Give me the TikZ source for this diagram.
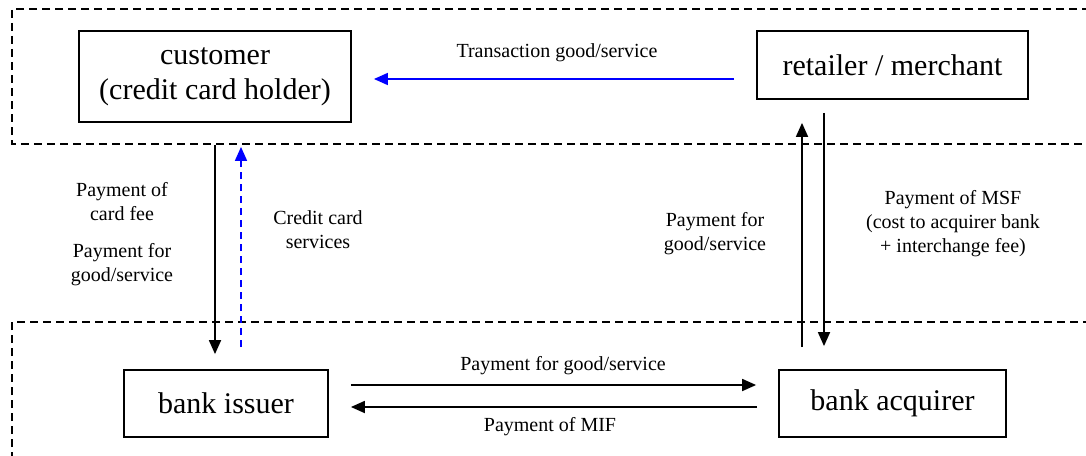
\documentclass[tikz,border=0pt]{standalone}
\usepackage{fontspec}
\setmainfont{Liberation Serif}
\newfontfamily\timesfont{Liberation Serif}
\usetikzlibrary{arrows.meta,calc}

\tikzset{
  party/.style={draw, line width=1.8pt, inner sep=0pt, align=center,
    font=\timesfont\fontsize{30}{35}\selectfont},
  lbl/.style={align=center, font=\timesfont\fontsize{20}{24}\selectfont},
  zone/.style={line width=1.6pt, dash pattern=on 8pt off 5pt},
  flow/.style={line width=1.8pt, -{Triangle[length=14pt,width=12pt]}},
  service/.style={flow, blue, line width=1.6pt},
}

\begin{document}
\begin{tikzpicture}[x=1pt, y=-1pt]
\useasboundingbox (0,0) rectangle (1086,455);

% the two dashed zones
\draw[zone] (1090,9) -- (12,9) -- (12,144) -- (1090,144);
\draw[zone] (12,460) -- (12,322) -- (1090,322);

% parties
\node[party, minimum width=272pt, minimum height=91pt] (cust) at (215,76.5)
  {customer\\(credit card holder)};
\node[party, minimum width=271pt, minimum height=68pt] (shop) at (892.5,65)
  {retailer / merchant};
\node[party, minimum width=204pt, minimum height=67pt] (issuer) at (226,403.5)
  {bank issuer};
\node[party, minimum width=227pt, minimum height=67pt] (acq) at (892.5,403.5)
  {bank acquirer};

% customer <-> issuer
\coordinate (c1) at ($(cust.south)+(26,0)$);
\draw[flow, shorten <=22pt, shorten >=15pt] (cust.south) -- (cust.south |- issuer.north);
\draw[service, dash pattern=on 7pt off 5pt, shorten <=22pt, shorten >=24pt]
  (c1 |- issuer.north) -- (c1);

% retailer <-> acquirer
\coordinate (s1) at (802,0);
\coordinate (s2) at (824,0);
\draw[flow, shorten <=22pt, shorten >=23pt] (s1 |- acq.north) -- (s1 |- shop.south);
\draw[flow, shorten <=13pt, shorten >=23pt] (s2 |- shop.south) -- (s2 |- acq.north);

% issuer <-> acquirer
\coordinate (h1) at (0,385);
\coordinate (h2) at (0,407);
\draw[flow, shorten <=22pt, shorten >=22pt] (issuer.east |- h1) -- (acq.west |- h1);
\draw[flow, shorten <=21pt, shorten >=22pt] (acq.west |- h2) -- (issuer.east |- h2);

% retailer -> customer
\coordinate (t1) at (0,79);
\draw[service, shorten <=22pt, shorten >=22pt] (shop.west |- t1) -- (cust.east |- t1);

% labels
\node[lbl] (ltrans) at (557,53) {Transaction good/service};
\node[lbl] (lfee) at (122,202) {Payment of\\card fee};
\node[lbl] (lgood) at (122,265) {Payment for\\good/service};
\node[lbl] (lserv) at (318,230) {Credit card\\services};
\node[lbl] (lgoodr) at (715,234) {Payment for\\good/service};
\node[lbl] (lmsf) at (953,224) {Payment of MSF\\(cost to acquirer bank\\+ interchange fee)};
\node[lbl] (lgoodb) at (563,366) {Payment for good/service};
\node[lbl] (lmif) at (550,427) {Payment of MIF};
\end{tikzpicture}
\end{document}
